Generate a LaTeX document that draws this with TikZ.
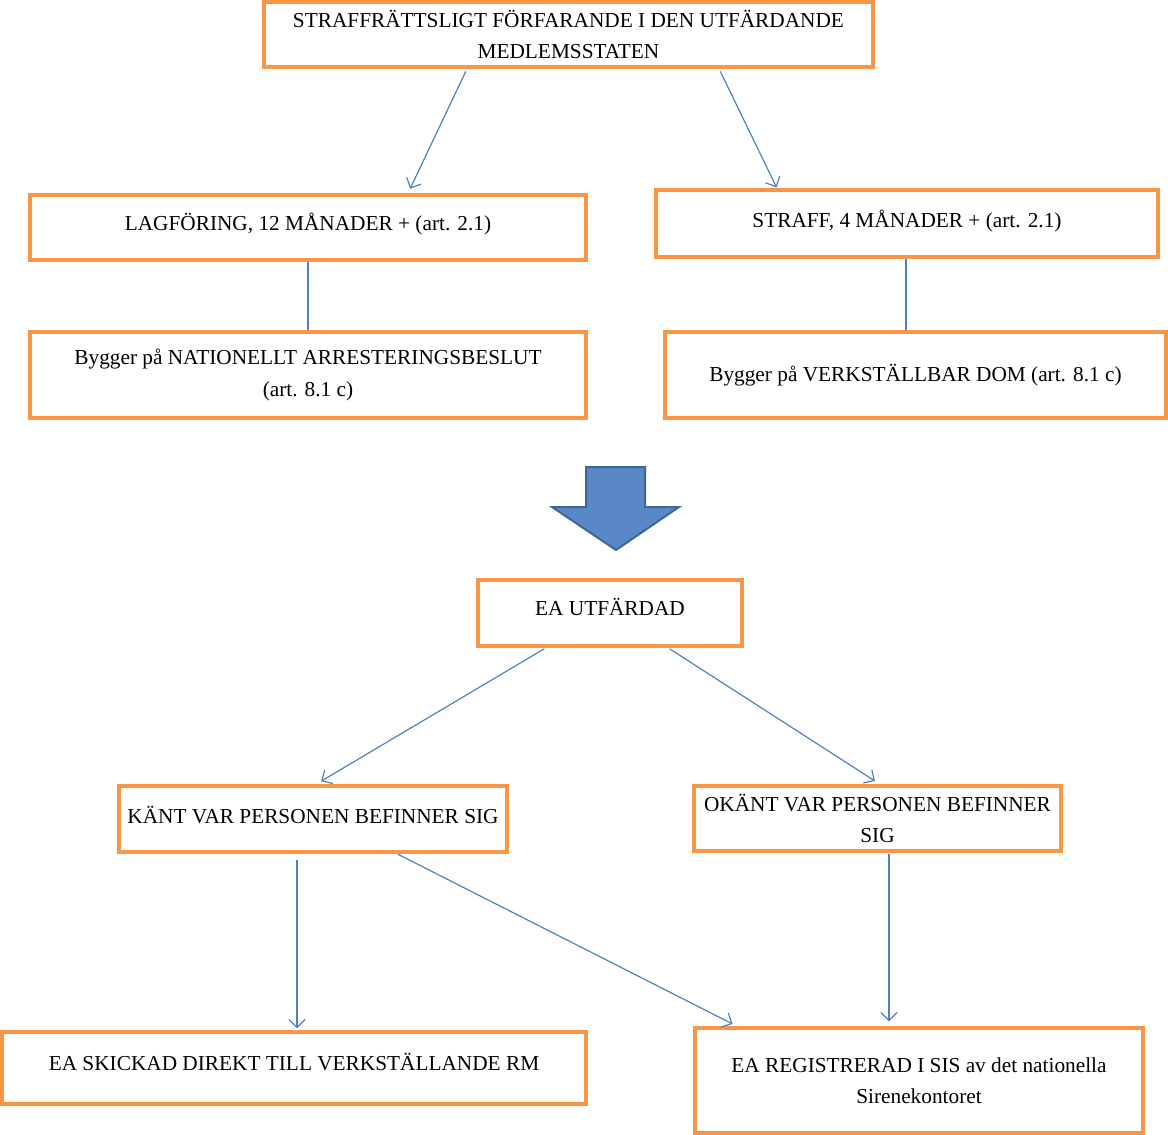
\documentclass[tikz,border=0pt]{standalone}
\usepackage{fontspec}
\setmainfont{Liberation Serif}
\usetikzlibrary{arrows.meta}
\definecolor{boxorange}{HTML}{F79646}
\definecolor{linkblue}{HTML}{4F81BD}
\definecolor{bigfill}{HTML}{5A88C6}
\definecolor{bigedge}{HTML}{3E6797}
\tikzset{
  box/.style={draw=boxorange, line width=3.5pt, fill=white, inner sep=0pt,
    align=center, font=\fontsize{21.3}{31.5}\selectfont},
  lift/.style={text height=16pt, text depth=#1},
  arr/.style={draw=linkblue, line width=1.2pt, -{Straight Barb[length=8pt,width=16pt]}},
  plain/.style={draw=linkblue, line width=1.2pt}
}
\begin{document}
\begin{tikzpicture}[x=1pt,y=-1pt]
\useasboundingbox (0,0) rectangle (1168,1135);
% boxes
\node[box, minimum width=609pt, minimum height=65pt] (top) at (568.5,34.5)
  {STRAFFRÄTTSLIGT FÖRFARANDE I DEN UTFÄRDANDE\\MEDLEMSSTATEN};
\node[box, lift=10.9pt, minimum width=556pt, minimum height=65pt] (lag) at (308,227.5)
  {LAGFÖRING, 12 MÅNADER + (art. 2.1)};
\node[box, lift=8.9pt, minimum width=502pt, minimum height=67pt] (straff) at (907,223.5)
  {STRAFF, 4 MÅNADER + (art. 2.1)};
\node[box, minimum width=556pt, minimum height=86pt] (nat) at (308,375)
  {Bygger på NATIONELLT ARRESTERINGSBESLUT\\(art. 8.1 c)};
\node[box, lift=2.9pt, minimum width=501pt, minimum height=86pt] (verk) at (915.5,375)
  {Bygger på VERKSTÄLLBAR DOM (art. 8.1 c)};
\node[box, lift=11.9pt, minimum width=264pt, minimum height=66pt] (ea) at (610,613)
  {EA UTFÄRDAD};
\node[box, lift=7.9pt, minimum width=388pt, minimum height=66pt] (kant) at (313,819)
  {KÄNT VAR PERSONEN BEFINNER SIG};
\node[box, minimum width=367pt, minimum height=65pt] (okant) at (877.5,818.5)
  {OKÄNT VAR PERSONEN BEFINNER\\SIG};
\node[box, lift=11.3pt, minimum width=584pt, minimum height=72pt] (skick) at (294,1068)
  {EA SKICKAD DIREKT TILL VERKSTÄLLANDE RM};
\node[box, minimum width=448pt, minimum height=105pt] (reg) at (919,1080.5)
  {EA REGISTRERAD I SIS av det nationella\\Sirenekontoret};
% big block arrow
\draw[fill=bigfill, draw=bigedge, line width=2pt, line join=miter]
  (586,467) -- (645,467) -- (645,507) -- (679,507) -- (616,550) -- (552,507) -- (586,507) -- cycle;
% connectors
\draw[arr, shorten <=3pt, shorten >=5pt] ([xshift=-101.5pt]top.south) -- ([xshift=100pt]lag.north);
\draw[arr, shorten <=3pt, shorten >=1pt] ([xshift=150.5pt]top.south) -- ([xshift=-130pt]straff.north);
\draw[plain] (lag.south) -- (nat.north);
\draw[plain] ([xshift=-1pt]straff.south) -- ([xshift=-1pt]straff.south |- verk.north);
\draw[arr, shorten <=2pt, shorten >=6pt] ([xshift=-64pt]ea.south) -- ([xshift=3pt]kant.north);
\draw[arr, shorten <=2pt, shorten >=6pt] ([xshift=58pt]ea.south) -- ([xshift=2.5pt]okant.north);
\draw[arr, shorten <=6pt, shorten >=2pt] ([xshift=-16pt]kant.south) -- ([xshift=3pt]skick.north);
\draw[arr, shorten <=1pt, shorten >=5pt] ([xshift=84pt]kant.south) -- ([xshift=-182pt]reg.north);
\draw[arr, shorten <=1pt, shorten >=5pt] ([xshift=11.5pt]okant.south) -- ([xshift=-30pt]reg.north);
\end{tikzpicture}
\end{document}
